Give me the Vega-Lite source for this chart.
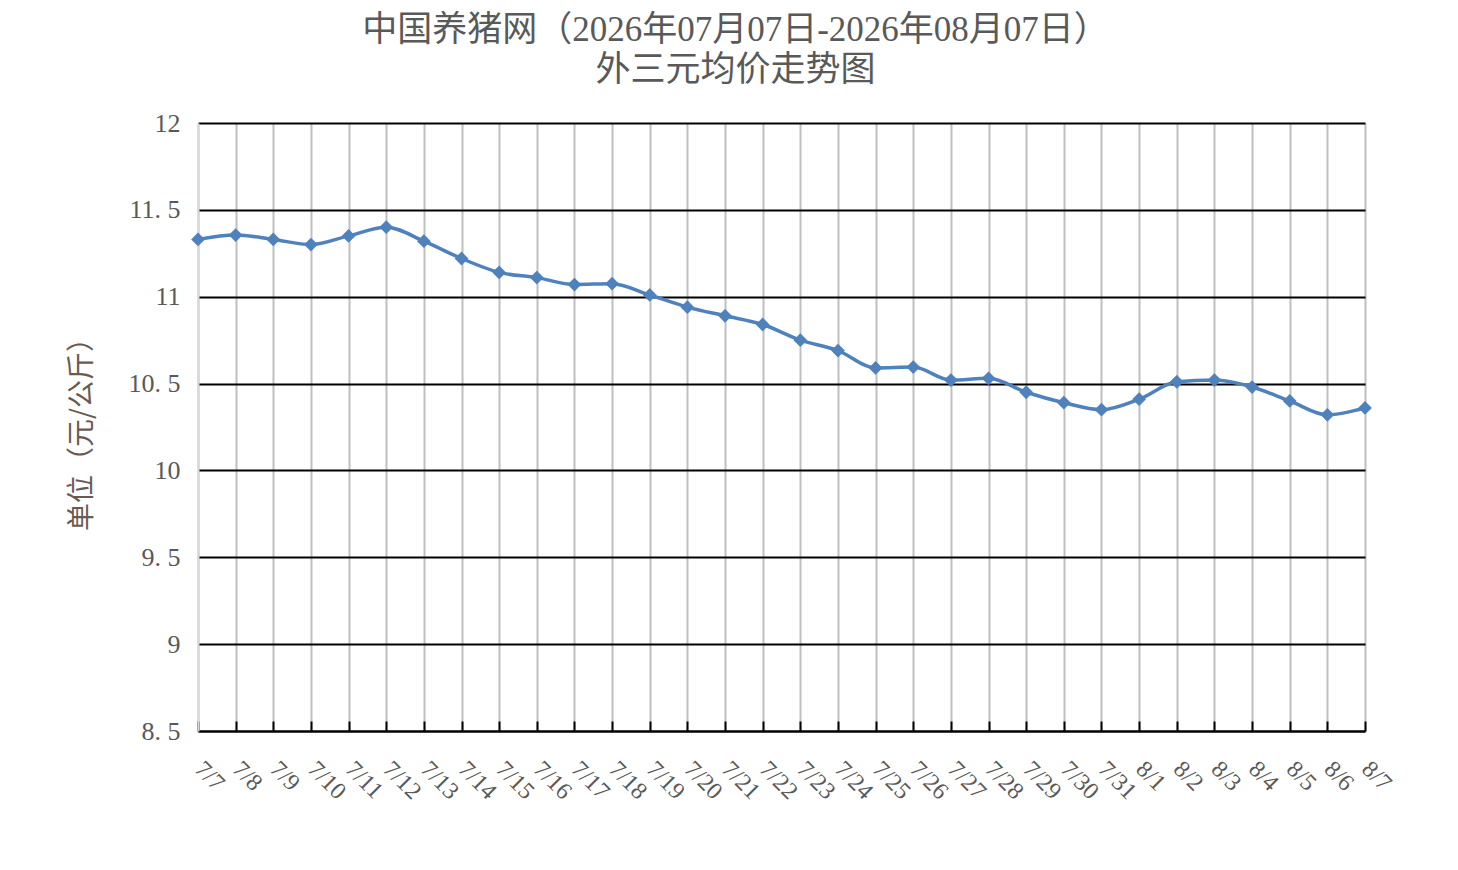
{
  "$schema": "https://vega.github.io/schema/vega-lite/v6.json",
  "width": 1167,
  "height": 608,
  "autosize": {"type": "none"},
  "padding": {"left": 198, "top": 123, "right": 93, "bottom": 139},
  "background": "white",
  "title": {
    "text": ["中国养猪网（2026年07月07日-2026年08月07日）", "外三元均价走势图"],
    "font": "Liberation Serif, Noto Sans CJK SC",
    "fontSize": 35,
    "fontWeight": "normal",
    "color": "#595959",
    "lineHeight": 40,
    "anchor": "middle",
    "dx": -46,
    "offset": 22
  },
  "data": {
    "values": [
      {"date": "7/7", "price": 11.33},
      {"date": "7/8", "price": 11.355},
      {"date": "7/9", "price": 11.33},
      {"date": "7/10", "price": 11.30},
      {"date": "7/11", "price": 11.35},
      {"date": "7/12", "price": 11.40},
      {"date": "7/13", "price": 11.32},
      {"date": "7/14", "price": 11.22},
      {"date": "7/15", "price": 11.14},
      {"date": "7/16", "price": 11.11},
      {"date": "7/17", "price": 11.07},
      {"date": "7/18", "price": 11.075},
      {"date": "7/19", "price": 11.01},
      {"date": "7/20", "price": 10.94},
      {"date": "7/21", "price": 10.89},
      {"date": "7/22", "price": 10.84},
      {"date": "7/23", "price": 10.75},
      {"date": "7/24", "price": 10.69},
      {"date": "7/25", "price": 10.59},
      {"date": "7/26", "price": 10.595},
      {"date": "7/27", "price": 10.52},
      {"date": "7/28", "price": 10.53},
      {"date": "7/29", "price": 10.45},
      {"date": "7/30", "price": 10.39},
      {"date": "7/31", "price": 10.35},
      {"date": "8/1", "price": 10.41},
      {"date": "8/2", "price": 10.51},
      {"date": "8/3", "price": 10.52},
      {"date": "8/4", "price": 10.48},
      {"date": "8/5", "price": 10.40},
      {"date": "8/6", "price": 10.32},
      {"date": "8/7", "price": 10.36}
    ]
  },
  "encoding": {
    "x": {
      "field": "date",
      "type": "ordinal",
      "sort": null,
      "title": null,
      "scale": {"type": "point", "padding": 0},
      "axis": {
        "grid": true,
        "gridColor": "#bfbfbf",
        "gridWidth": 2,
        "domainColor": "black",
        "domainWidth": 2,
        "tickColor": "black",
        "tickWidth": 2,
        "tickSize": -10,
        "labelAngle": 45,
        "labelAlign": "left",
        "labelBaseline": "middle",
        "labelPadding": 44,
        "labelFont": "Liberation Serif",
        "labelFontSize": 24,
        "labelColor": "#595959",
        "labelOverlap": false
      }
    },
    "y": {
      "field": "price",
      "type": "quantitative",
      "title": "单位（元/公斤）",
      "scale": {"domain": [8.5, 12], "nice": false, "zero": false},
      "axis": {
        "values": [8.5, 9, 9.5, 10, 10.5, 11, 11.5, 12],
        "format": ".1~f",
        "labelExpr": "replace(datum.label, '.', '. ')",
        "grid": true,
        "gridColor": "black",
        "gridWidth": 2,
        "domainColor": "#d9d9d9",
        "domainWidth": 2,
        "ticks": false,
        "labelPadding": 18,
        "labelFont": "Liberation Serif",
        "labelFontSize": 26,
        "labelColor": "#595959",
        "titleFont": "Noto Sans CJK SC",
        "titleFontSize": 28,
        "titleFontWeight": "normal",
        "titleColor": "#6b5a52",
        "titlePadding": 32
      }
    }
  },
  "layer": [
    {
      "mark": {"type": "line", "color": "#4f81bd", "strokeWidth": 3.5, "interpolate": "monotone"}
    },
    {
      "mark": {"type": "point", "shape": "diamond", "filled": true, "color": "#4f81bd", "opacity": 1, "size": 190}
    }
  ],
  "config": {
    "view": {"stroke": null}
  }
}
